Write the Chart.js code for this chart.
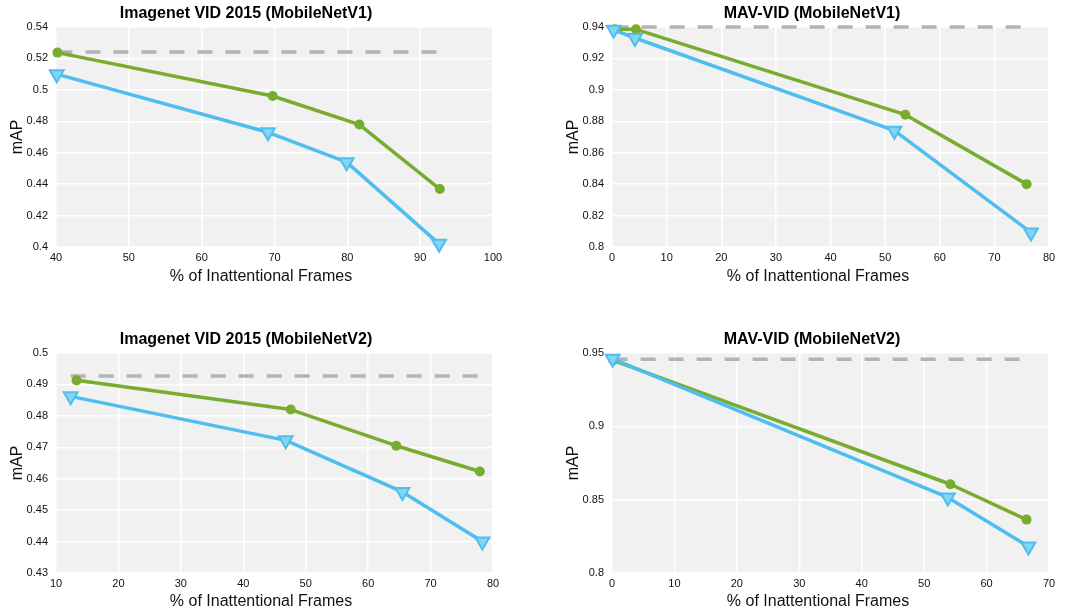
<!DOCTYPE html>
<html><head><meta charset="utf-8">
<script src="https://cdn.jsdelivr.net/npm/chart.js@4.4.1/dist/chart.umd.min.js"></script>
<style>
html,body{margin:0;padding:0;background:#fff;width:1076px;height:612px;overflow:hidden;font-family:"Liberation Sans",Arial,Helvetica,sans-serif;}
canvas{position:absolute;}
.ttl{position:absolute;font-weight:bold;font-size:16px;line-height:16px;white-space:nowrap;transform:translateX(-50%);color:#000;}
.xt{position:absolute;font-size:16px;line-height:16px;white-space:nowrap;transform:translateX(-50%);color:#111;}
</style></head><body>
<canvas id="c1" width="538" height="306" style="left:0;top:0"></canvas>
<canvas id="c2" width="538" height="306" style="left:538px;top:0"></canvas>
<canvas id="c3" width="538" height="306" style="left:0;top:306px"></canvas>
<canvas id="c4" width="538" height="306" style="left:538px;top:306px"></canvas>
<div class="ttl" id="t1" style="left:246px;top:5px"></div>
<div class="ttl" id="t2" style="left:812px;top:5px"></div>
<div class="ttl" id="t3" style="left:246px;top:331px"></div>
<div class="ttl" id="t4" style="left:812px;top:331px"></div>
<div class="xt" id="x1" style="left:261px;top:268px"></div>
<div class="xt" id="x2" style="left:818px;top:268px"></div>
<div class="xt" id="x3" style="left:261px;top:593px"></div>
<div class="xt" id="x4" style="left:818px;top:593px"></div>
<script>
// ---- text ----
const panelTitles = ["Imagenet VID 2015 (MobileNetV1)", "MAV-VID (MobileNetV1)", "Imagenet VID 2015 (MobileNetV2)", "MAV-VID (MobileNetV2)"];
const xAxisTitle = "% of Inattentional Frames";
const yAxisTitle = "mAP";

// ---- Panel 1: Imagenet VID 2015 (MobileNetV1) ----
const xTicks1 = [40, 50, 60, 70, 80, 90, 100];
const yTicks1 = [0.4, 0.42, 0.44, 0.46, 0.48, 0.5, 0.52, 0.54];
const greenX1 = [40.2, 69.75, 81.65, 92.7];
const greenY1 = [0.5237, 0.4961, 0.4779, 0.4369];
const blueX1 = [40.1, 69.1, 79.9, 92.6];
const blueY1 = [0.510, 0.473, 0.454, 0.402];
const baseX1 = [40.2, 92.7];
const baseY1 = [0.5241, 0.5241];

// ---- Panel 2: MAV-VID (MobileNetV1) ----
const xTicks2 = [0, 10, 20, 30, 40, 50, 60, 70, 80];
const yTicks2 = [0.8, 0.82, 0.84, 0.86, 0.88, 0.9, 0.92, 0.94];
const greenX2 = [0.5, 4.4, 53.7, 75.9];
const greenY2 = [0.9385, 0.9385, 0.8842, 0.840];
const blueX2 = [0.3, 4.2, 51.7, 76.7];
const blueY2 = [0.9382, 0.9330, 0.8740, 0.8093];
const baseX2 = [0.3, 75.9];
const baseY2 = [0.94, 0.94];

// ---- Panel 3: Imagenet VID 2015 (MobileNetV2) ----
const xTicks3 = [10, 20, 30, 40, 50, 60, 70, 80];
const yTicks3 = [0.43, 0.44, 0.45, 0.46, 0.47, 0.48, 0.49, 0.5];
const greenX3 = [13.3, 47.6, 64.5, 77.9];
const greenY3 = [0.4913, 0.482, 0.4705, 0.4623];
const blueX3 = [12.35, 46.8, 65.5, 78.3];
const blueY3 = [0.4862, 0.4722, 0.4558, 0.4400];
const baseX3 = [12.35, 77.9];
const baseY3 = [0.4927, 0.4927];

// ---- Panel 4: MAV-VID (MobileNetV2) ----
const xTicks4 = [0, 10, 20, 30, 40, 50, 60, 70];
const yTicks4 = [0.8, 0.85, 0.9, 0.95];
const greenX4 = [0.2, 54.2, 66.4];
const greenY4 = [0.945, 0.8605, 0.8364];
const blueX4 = [0.1, 53.8, 66.7];
const blueY4 = [0.9460, 0.8515, 0.8180];
const baseX4 = [0.1, 66.4];
const baseY4 = [0.9457, 0.9457];

// ---- styles ----
const GREEN = "#77AC30", BLUE = "#4DBEEE", GRAY = "#b3b3b3";
const FONT = '"Liberation Sans", Arial, Helvetica, sans-serif';

const pts = (xs, ys) => xs.map((x, i) => ({x: x, y: ys[i]}));

const bgPlugin = {
  id: 'plotBg',
  beforeDraw(chart) {
    const a = chart.chartArea, c = chart.ctx;
    c.save(); c.fillStyle = '#f1f1f1';
    c.fillRect(a.left, a.top, a.right - a.left, a.bottom - a.top);
    c.restore();
  }
};

function makeChart(id, d, lay) {
  new Chart(document.getElementById(id), {
    type: 'line',
    data: {
      datasets: [
        {data: pts(d.bx, d.by), borderColor: BLUE, borderWidth: 3.5, borderJoinStyle: 'round',
         pointStyle: 'triangle', rotation: 180, pointRadius: 8, pointBorderWidth: 2,
         pointBackgroundColor: '#86d3f3', pointBorderColor: BLUE, order: 1, clip: false, tension: 0},
        {data: pts(d.gx, d.gy), borderColor: GREEN, borderWidth: 3.5, borderJoinStyle: 'round',
         pointStyle: 'circle', pointRadius: 5, pointBorderWidth: 0,
         pointBackgroundColor: GREEN, pointBorderColor: GREEN, order: 2, clip: false, tension: 0},
        {data: pts(d.sx, d.sy), borderColor: GRAY, borderWidth: 3.5, borderDash: [15, 13],
         pointRadius: 0, order: 3, clip: false, tension: 0}
      ]
    },
    options: {
      responsive: false, animation: false, events: [],
      layout: {padding: {left: lay.padL, top: lay.padT, right: lay.padR, bottom: 0}},
      plugins: {legend: {display: false}, title: {display: false}, tooltip: {enabled: false}},
      scales: {
        x: {type: 'linear', min: d.xt[0], max: d.xt[d.xt.length - 1],
            afterBuildTicks: s => { s.ticks = d.xt.map(v => ({value: v})); },
            afterFit: s => { s.height = lay.xH; },
            grid: {color: '#ffffff', lineWidth: 1.5, drawTicks: false},
            border: {display: false},
            ticks: {padding: 4, color: '#111', font: {family: FONT, size: 11}, maxRotation: 0, autoSkip: false,
                    callback: v => String(v)}},
        y: {type: 'linear', min: d.yt[0], max: d.yt[d.yt.length - 1],
            afterBuildTicks: s => { s.ticks = d.yt.map(v => ({value: v})); },
            afterFit: s => { s.width = lay.yW; },
            grid: {color: '#ffffff', lineWidth: 1.5, drawTicks: false},
            border: {display: false},
            title: {display: true, text: yAxisTitle, color: '#111', font: {family: FONT, size: 16}, padding: {top: 8, bottom: 0}},
            ticks: {padding: 8, color: '#111', font: {family: FONT, size: 11}, autoSkip: false,
                    callback: v => String(v)}}
      }
    },
    plugins: [bgPlugin]
  });
}

makeChart('c1', {xt: xTicks1, yt: yTicks1, gx: greenX1, gy: greenY1, bx: blueX1, by: blueY1, sx: baseX1, sy: baseY1},
  {padL: 0, padT: 27, padR: 45, yW: 56, xH: 59});
makeChart('c2', {xt: xTicks2, yt: yTicks2, gx: greenX2, gy: greenY2, bx: blueX2, by: blueY2, sx: baseX2, sy: baseY2},
  {padL: 18, padT: 27, padR: 27, yW: 56, xH: 59});
makeChart('c3', {xt: xTicks3, yt: yTicks3, gx: greenX3, gy: greenY3, bx: blueX3, by: blueY3, sx: baseX3, sy: baseY3},
  {padL: 0, padT: 47, padR: 45, yW: 56, xH: 39});
makeChart('c4', {xt: xTicks4, yt: yTicks4, gx: greenX4, gy: greenY4, bx: blueX4, by: blueY4, sx: baseX4, sy: baseY4},
  {padL: 18, padT: 47, padR: 27, yW: 56, xH: 39});

['t1','t2','t3','t4'].forEach((id, i) => { document.getElementById(id).textContent = panelTitles[i]; });
['x1','x2','x3','x4'].forEach(id => { document.getElementById(id).textContent = xAxisTitle; });
</script>
</body></html>
